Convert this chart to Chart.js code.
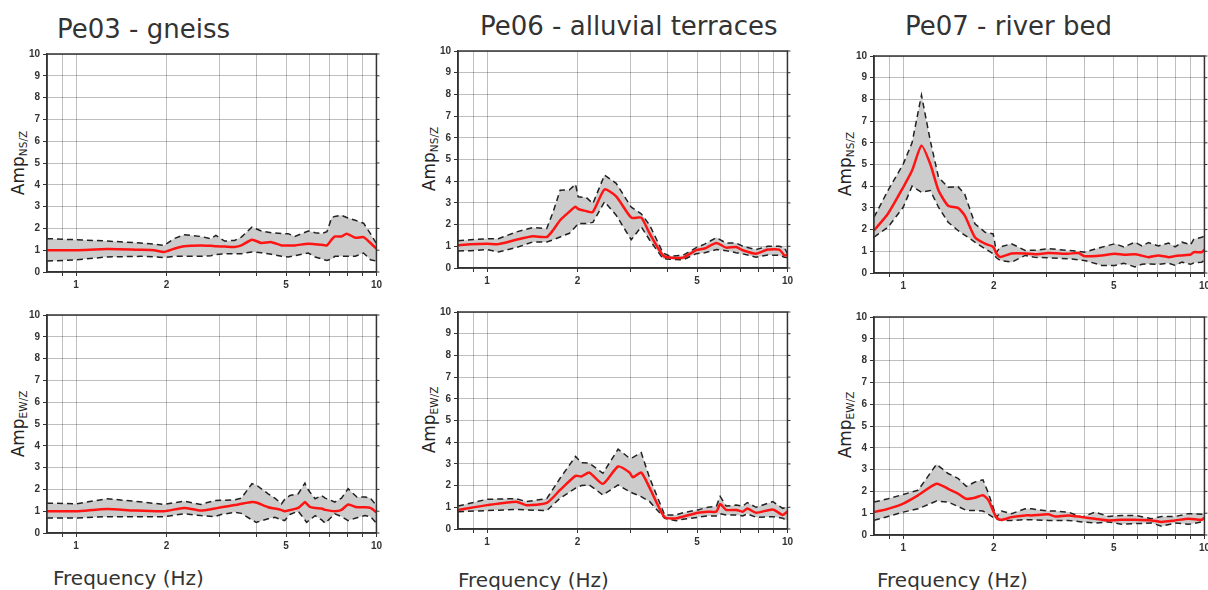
<!DOCTYPE html>
<html>
<head>
<meta charset="utf-8">
<script src="https://cdn.jsdelivr.net/npm/chart.js@4.4.0/dist/chart.umd.min.js"></script>
<style>
  html, body { margin: 0; padding: 0; background: #fff; overflow: hidden; }
  body { width: 1208px; height: 590px; position: relative; }
  canvas { position: absolute; }
  .title { position: absolute; font-family: 'DejaVu Sans', sans-serif; font-size: 26px; line-height: 1; color: #333; white-space: nowrap; }
  .xlab { position: absolute; font-family: 'DejaVu Sans', sans-serif; font-size: 20px; line-height: 1; color: #333; white-space: nowrap; }
  .ylab { position: absolute; transform: translate(-50%, -50%) rotate(-90deg); font-family: 'DejaVu Sans', sans-serif; font-size: 17px; line-height: 1; color: #222; white-space: nowrap; }
  .ylab sub { font-size: 10.5px; vertical-align: -3px; }
</style>
</head>
<body>

<div class="title" style="left:57px; top:16px;">Pe03 - gneiss</div>
<div class="title" style="left:480px; top:13px;">Pe06 - alluvial terraces</div>
<div class="title" style="left:905px; top:13px;">Pe07 - river bed</div>

<div class="ylab" style="left:19px; top:163px;">Amp<sub>NS/Z</sub></div>
<div class="ylab" style="left:430px; top:159px;">Amp<sub>NS/Z</sub></div>
<div class="ylab" style="left:846px; top:164px;">Amp<sub>NS/Z</sub></div>
<div class="ylab" style="left:19px; top:424px;">Amp<sub>EW/Z</sub></div>
<div class="ylab" style="left:430px; top:420px;">Amp<sub>EW/Z</sub></div>
<div class="ylab" style="left:846px; top:425px;">Amp<sub>EW/Z</sub></div>

<div class="xlab" style="left:53px; top:568px;">Frequency (Hz)</div>
<div class="xlab" style="left:458px; top:570px;">Frequency (Hz)</div>
<div class="xlab" style="left:877px; top:570px;">Frequency (Hz)</div>

<canvas id="pe03ns"></canvas>
<canvas id="pe06ns"></canvas>
<canvas id="pe07ns"></canvas>
<canvas id="pe03ew"></canvas>
<canvas id="pe06ew"></canvas>
<canvas id="pe07ew"></canvas>

<script>
// axis ticks
const gridFreqs = [0.9, 1, 2, 3, 4, 5, 6, 7, 8, 9, 10];
const labelFreqs = [1, 2, 5, 10];
const ampTicks = [0, 1, 2, 3, 4, 5, 6, 7, 8, 9, 10];

// Pe03 - gneiss
const freqNS03 = [0.8, 1.0, 1.27, 1.64, 1.82, 1.96, 2.12, 2.29, 2.6, 2.81, 2.92, 3.12, 3.37, 3.55, 3.85, 4.14, 4.47, 4.83, 5.08, 5.35, 5.93, 6.25, 6.57, 6.84, 7.1, 7.27, 7.65, 7.96, 8.5, 9.06, 9.55, 10];
const meanNS03 = [1.0, 1.0, 1.05, 1.02, 1.0, 0.92, 1.07, 1.18, 1.22, 1.2, 1.18, 1.17, 1.15, 1.22, 1.48, 1.33, 1.37, 1.22, 1.22, 1.22, 1.3, 1.27, 1.25, 1.22, 1.5, 1.63, 1.63, 1.76, 1.57, 1.6, 1.33, 1.07];
const upperNS03 = [1.53, 1.48, 1.42, 1.33, 1.28, 1.22, 1.53, 1.71, 1.63, 1.53, 1.68, 1.42, 1.45, 1.6, 2.06, 1.88, 1.8, 1.76, 1.76, 1.63, 1.88, 1.8, 1.76, 1.85, 2.5, 2.55, 2.6, 2.5, 2.37, 2.24, 1.76, 1.3];
const lowerNS03 = [0.5, 0.56, 0.69, 0.72, 0.7, 0.66, 0.72, 0.72, 0.72, 0.75, 0.8, 0.84, 0.84, 0.84, 0.92, 0.88, 0.81, 0.72, 0.69, 0.75, 0.87, 0.69, 0.6, 0.53, 0.6, 0.72, 0.72, 0.72, 0.72, 0.87, 0.56, 0.5];

const freqEW03 = [0.8, 1.0, 1.27, 1.56, 1.96, 2.29, 2.6, 2.89, 3.04, 3.37, 3.55, 3.85, 3.98, 4.36, 4.59, 4.83, 4.95, 5.15, 5.49, 5.78, 5.85, 6.0, 6.25, 6.57, 6.75, 7.27, 7.65, 8.05, 8.61, 9.18, 9.55, 10];
const meanEW03 = [1.0, 1.0, 1.1, 1.03, 1.0, 1.15, 1.03, 1.12, 1.18, 1.28, 1.34, 1.42, 1.4, 1.18, 1.12, 1.05, 1.0, 1.05, 1.15, 1.42, 1.35, 1.2, 1.15, 1.12, 1.06, 1.0, 1.06, 1.31, 1.18, 1.18, 1.15, 0.95];
const upperEW03 = [1.37, 1.34, 1.57, 1.46, 1.31, 1.46, 1.31, 1.49, 1.5, 1.52, 1.6, 2.26, 2.2, 1.8, 1.6, 1.34, 1.55, 1.72, 1.8, 2.29, 2.1, 1.88, 1.57, 1.72, 1.6, 1.42, 1.6, 2.03, 1.65, 1.65, 1.6, 1.26];
const lowerEW03 = [0.69, 0.69, 0.75, 0.75, 0.75, 0.88, 0.8, 0.75, 0.85, 0.95, 0.9, 0.6, 0.49, 0.65, 0.72, 0.6, 0.57, 0.85, 1.0, 0.6, 0.49, 0.6, 0.8, 0.6, 0.45, 0.88, 0.75, 0.57, 0.7, 0.8, 0.75, 0.45];

// Pe06 - alluvial terraces
const freqNS06 = [0.8, 0.88, 1.0, 1.09, 1.25, 1.42, 1.58, 1.66, 1.75, 1.88, 1.97, 2.01, 2.14, 2.25, 2.46, 2.69, 3.02, 3.26, 3.48, 3.85, 4.05, 4.49, 4.97, 5.3, 5.8, 6.25, 6.75, 7.1, 7.86, 8.6, 9.4, 9.77, 10];
const meanNS06 = [1.05, 1.1, 1.12, 1.1, 1.3, 1.46, 1.43, 1.75, 2.2, 2.6, 2.82, 2.72, 2.62, 2.58, 3.62, 3.3, 2.32, 2.32, 1.58, 0.58, 0.48, 0.48, 0.82, 0.9, 1.15, 0.94, 0.97, 0.82, 0.66, 0.85, 0.85, 0.58, 0.6];
const upperNS06 = [1.25, 1.3, 1.35, 1.35, 1.66, 1.86, 1.82, 2.6, 3.58, 3.6, 3.86, 3.28, 3.25, 2.97, 4.28, 3.9, 2.8, 2.5, 1.97, 0.7, 0.55, 0.58, 0.94, 1.1, 1.4, 1.15, 1.15, 1.0, 0.85, 1.0, 1.0, 0.94, 0.66];
const lowerNS06 = [0.78, 0.8, 0.85, 0.74, 0.94, 1.2, 1.2, 1.3, 1.43, 1.6, 1.9, 2.05, 2.05, 2.1, 3.05, 2.43, 1.3, 1.9, 1.28, 0.43, 0.4, 0.38, 0.66, 0.7, 0.85, 0.8, 0.7, 0.65, 0.5, 0.6, 0.58, 0.5, 0.48];

const freqEW06 = [0.8, 1.0, 1.25, 1.35, 1.58, 1.75, 1.97, 2.06, 2.19, 2.43, 2.73, 2.98, 3.06, 3.26, 3.48, 3.9, 4.26, 4.49, 5.03, 5.43, 5.8, 5.97, 6.25, 6.75, 7.1, 7.35, 7.86, 8.94, 9.64, 10];
const meanEW06 = [0.88, 1.1, 1.26, 1.1, 1.2, 1.8, 2.45, 2.42, 2.6, 2.08, 2.88, 2.6, 2.38, 2.6, 1.88, 0.54, 0.49, 0.57, 0.75, 0.8, 0.8, 1.15, 0.88, 0.88, 0.8, 0.95, 0.75, 0.9, 0.65, 0.8];
const upperEW06 = [1.06, 1.37, 1.4, 1.26, 1.4, 2.34, 3.34, 3.06, 3.03, 2.57, 3.68, 3.26, 3.3, 3.52, 2.34, 0.65, 0.65, 0.75, 0.88, 1.0, 1.05, 1.5, 1.06, 1.1, 1.05, 1.22, 1.0, 1.26, 0.95, 1.03];
const lowerEW06 = [0.8, 0.85, 0.9, 0.88, 0.85, 1.42, 1.88, 2.0, 2.03, 1.57, 2.03, 1.72, 1.65, 1.49, 1.26, 0.49, 0.38, 0.45, 0.54, 0.6, 0.6, 0.7, 0.65, 0.65, 0.6, 0.7, 0.54, 0.57, 0.5, 0.38];

// Pe07 - river bed
const freqNS07 = [0.8, 0.89, 1.0, 1.07, 1.15, 1.23, 1.31, 1.41, 1.52, 1.6, 1.73, 1.87, 1.99, 2.04, 2.1, 2.29, 2.54, 2.74, 3.03, 3.53, 3.82, 4.0, 4.56, 5.05, 5.4, 5.88, 6.2, 6.52, 7.03, 7.6, 8.0, 8.42, 9.0, 9.21, 9.79, 10];
const meanNS07 = [1.96, 2.73, 3.95, 4.72, 5.87, 5.02, 3.8, 3.1, 3.0, 2.65, 1.65, 1.35, 1.2, 0.9, 0.74, 0.9, 0.9, 0.86, 0.92, 0.89, 0.92, 0.77, 0.81, 0.89, 0.84, 0.86, 0.8, 0.73, 0.81, 0.73, 0.78, 0.81, 0.85, 0.96, 0.96, 1.07];
const upperNS07 = [2.57, 3.8, 5.02, 6.0, 8.2, 6.1, 4.41, 3.95, 3.98, 3.64, 2.27, 1.88, 1.8, 0.95, 1.2, 1.35, 1.04, 1.05, 1.12, 1.04, 1.0, 0.96, 1.19, 1.35, 1.2, 1.42, 1.25, 1.4, 1.25, 1.38, 1.2, 1.42, 1.3, 1.55, 1.65, 1.7];
const lowerNS07 = [1.65, 2.11, 3.03, 4.0, 3.72, 3.8, 3.03, 2.34, 1.96, 1.75, 1.42, 1.12, 0.89, 0.7, 0.58, 0.5, 0.81, 0.72, 0.7, 0.66, 0.6, 0.58, 0.35, 0.35, 0.45, 0.28, 0.4, 0.42, 0.4, 0.45, 0.35, 0.5, 0.4, 0.46, 0.5, 0.58];

const freqEW07 = [0.8, 0.89, 1.0, 1.12, 1.29, 1.41, 1.52, 1.62, 1.73, 1.84, 1.92, 2.04, 2.12, 2.29, 2.54, 2.67, 3.03, 3.19, 3.53, 3.92, 4.33, 4.8, 5.31, 5.88, 6.68, 7.21, 7.98, 8.87, 9.79, 10];
const meanEW07 = [1.05, 1.2, 1.44, 1.82, 2.35, 2.12, 1.9, 1.66, 1.71, 1.82, 1.59, 0.79, 0.7, 0.82, 0.9, 0.9, 0.95, 0.85, 0.9, 0.82, 0.75, 0.67, 0.7, 0.7, 0.67, 0.6, 0.67, 0.75, 0.7, 0.79];
const upperEW07 = [1.51, 1.66, 1.86, 2.05, 3.24, 2.82, 2.6, 2.23, 2.43, 2.53, 1.9, 0.82, 1.1, 0.98, 1.2, 1.2, 1.1, 1.1, 1.05, 0.82, 1.05, 0.85, 0.9, 0.9, 0.75, 0.85, 0.85, 0.98, 0.95, 1.05];
const lowerEW07 = [0.67, 0.85, 1.05, 1.2, 1.56, 1.51, 1.31, 1.13, 1.12, 1.1, 0.95, 0.72, 0.67, 0.67, 0.7, 0.7, 0.67, 0.67, 0.67, 0.6, 0.55, 0.6, 0.49, 0.52, 0.55, 0.4, 0.55, 0.49, 0.6, 0.67];

// margins around each plot box inside its canvas
const padL = 40, padT = 8, padR = 8, padB = 22;
const tickFont = { family: 'Liberation Sans', size: 10, weight: 'bold' };

// closed frame round the plot with small outer ticks on the right side
const framePlugin = {
    id: 'frame',
    afterDatasetsDraw(chart) {
        const { ctx, chartArea: a } = chart;
        const y = chart.scales.y;
        ctx.save();
        ctx.strokeStyle = '#333';
        ctx.lineWidth = 1.5;
        ctx.strokeRect(a.left, a.top, a.right - a.left, a.bottom - a.top);
        ctx.lineWidth = 1;
        ampTicks.forEach(v => {
            const py = y.getPixelForValue(v);
            ctx.beginPath();
            ctx.moveTo(a.right, py);
            ctx.lineTo(a.right + 3, py);
            ctx.stroke();
        });
        ctx.restore();
    }
};

function makePanel(id, box, freq, mean, upper, lower) {
    const cv = document.getElementById(id);
    cv.width = box.w + padL + padR;
    cv.height = box.h + padT + padB;
    cv.style.left = (box.x - padL) + 'px';
    cv.style.top = (box.y - padT) + 'px';

    const pts = arr => freq.map((f, i) => ({ x: f, y: arr[i] }));

    return new Chart(cv, {
        type: 'line',
        data: {
            datasets: [
                { data: pts(mean), borderColor: '#ff1414', borderWidth: 2.5, pointRadius: 0, tension: 0.2, fill: false },
                { data: pts(upper), borderColor: '#222', borderWidth: 1.5, borderDash: [6, 4], pointRadius: 0, fill: '+1', backgroundColor: '#cccccc' },
                { data: pts(lower), borderColor: '#222', borderWidth: 1.5, borderDash: [6, 4], pointRadius: 0, fill: false }
            ]
        },
        options: {
            responsive: false,
            animation: false,
            layout: { padding: { top: padT, right: padR, left: 0, bottom: 0 } },
            plugins: {
                legend: { display: false },
                tooltip: { enabled: false },
                filler: { drawTime: 'beforeDatasetsDraw' }
            },
            scales: {
                x: {
                    type: 'logarithmic',
                    min: 0.8,
                    max: 10,
                    afterBuildTicks: ax => { ax.ticks = gridFreqs.map(v => ({ value: v })); },
                    afterFit: ax => { ax.height = padB; },
                    ticks: {
                        autoSkip: false, maxRotation: 0, padding: 3, color: '#333', font: tickFont,
                        callback: v => labelFreqs.includes(v) ? String(v) : ''
                    },
                    grid: { color: 'rgba(0,0,0,0.25)', lineWidth: 1, tickLength: 4, tickColor: '#333' },
                    border: { color: '#333', width: 1.5 }
                },
                y: {
                    min: 0,
                    max: 10,
                    afterBuildTicks: ax => { ax.ticks = ampTicks.map(v => ({ value: v })); },
                    afterFit: ax => { ax.width = padL; },
                    ticks: { padding: 3, color: '#333', font: tickFont },
                    grid: { color: 'rgba(0,0,0,0.25)', lineWidth: 1, tickLength: 4, tickColor: '#333' },
                    border: { color: '#333', width: 1.5 }
                }
            }
        },
        plugins: [framePlugin]
    });
}

makePanel('pe03ns', { x: 47, y: 53, w: 330, h: 219 }, freqNS03, meanNS03, upperNS03, lowerNS03);
makePanel('pe06ns', { x: 458, y: 50, w: 330, h: 218 }, freqNS06, meanNS06, upperNS06, lowerNS06);
makePanel('pe07ns', { x: 874, y: 55, w: 331, h: 218 }, freqNS07, meanNS07, upperNS07, lowerNS07);
makePanel('pe03ew', { x: 47, y: 314, w: 330, h: 219 }, freqEW03, meanEW03, upperEW03, lowerEW03);
makePanel('pe06ew', { x: 458, y: 311, w: 330, h: 218 }, freqEW06, meanEW06, upperEW06, lowerEW06);
makePanel('pe07ew', { x: 874, y: 316, w: 331, h: 219 }, freqEW07, meanEW07, upperEW07, lowerEW07);
</script>
</body>
</html>
